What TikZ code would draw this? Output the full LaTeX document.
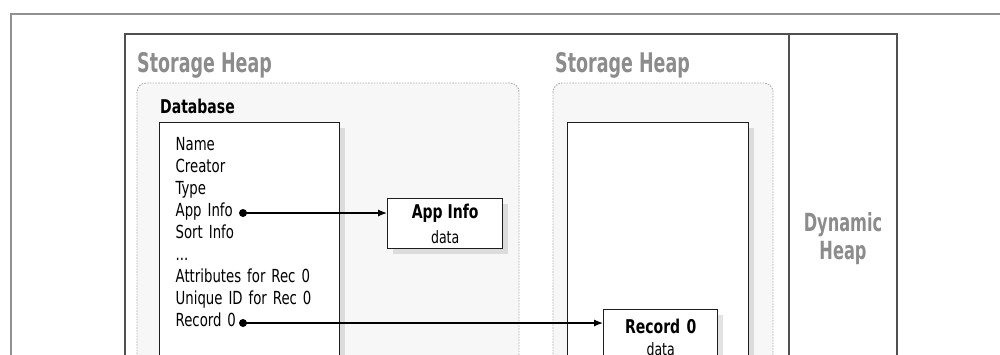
\documentclass[tikz,border=0pt]{standalone}
\usepackage{fontspec}
\setmainfont[FakeStretch=0.82]{DejaVu Sans Condensed}
\newfontfamily\headfont[FakeStretch=0.72]{DejaVu Sans Condensed}
\usetikzlibrary{positioning,arrows.meta,shadows}
\definecolor{HeapGray}{RGB}{140,140,140}
\definecolor{FrameGray}{RGB}{145,145,145}
\definecolor{LineGray}{RGB}{80,80,80}
\definecolor{BoxLine}{RGB}{30,30,30}
\definecolor{ZoneLine}{RGB}{175,175,175}
\definecolor{ZoneFill}{RGB}{247,247,247}
\begin{document}
\begin{tikzpicture}[x=1pt,y=-1pt,
heap/.style={font=\headfont\bfseries\fontsize{27}{27}\selectfont,text=HeapGray,inner sep=0pt},
zone/.style={draw=ZoneLine,fill=ZoneFill,dash pattern=on 1.6pt off 1.2pt,line width=0.9pt,rounded corners=9pt},
memo/.style={draw=BoxLine,fill=white,line width=1.4pt,
drop shadow={shadow xshift=5pt,shadow yshift=-5pt,opacity=0.22}},
fields/.style={font=\fontsize{18}{22}\selectfont,align=left},
dot/.style={circle,fill=black,inner sep=0pt,minimum size=8pt},
ptr/.style={-{Latex[length=9pt,width=7pt]},line width=1.2pt}
]
\useasboundingbox (0,0) rectangle (1000,354);
\clip (0,0) rectangle (1000,354);
% frames
\draw[line width=1.6pt,draw=FrameGray] (11,420) -- (11,14) -- (1020,14);
\draw[line width=1.4pt,draw=LineGray] (125,420) -- (125,34) -- (897,34) -- (897,420) (789,34) -- (789,420);
% heaps
\node[heap,anchor=base west] (sheap1) at (137,72) {Storage Heap};
\node[heap,anchor=base west] (sheap2) at (555,72) {Storage Heap};
\node[heap,font=\headfont\bfseries\fontsize{25}{28}\selectfont,align=center] (dheap) at (843,239) {Dynamic\\Heap};
\draw[zone] (137,83) rectangle (519,420);
\draw[zone] (553,83) rectangle (773,420);
% database
\node[font=\bfseries\fontsize{19}{19}\selectfont,inner sep=0pt,anchor=base west] (dblabel) at (160,113) {Database};
\node[memo,fields,anchor=north west,inner xsep=16pt,inner ysep=15pt,text width=148pt,text depth=280pt] (db) at (159,122)
{Name\\Creator\\Type\\App Info\\Sort Info\\...\\Attributes for Rec 0\\Unique ID for Rec 0\\Record 0};
\node[dot] (appdot) at (243,213) {};
\node[dot] (recdot) at (243,323) {};
\node[memo,anchor=north west,minimum width=115pt,minimum height=50pt,align=center,inner sep=0pt,
font=\fontsize{19}{25}\selectfont] (appinfo) at (387,198) {\textbf{App Info}\\{\fontsize{17}{25}\selectfont data}};
% second heap
\node[memo,anchor=north west,minimum width=181pt,minimum height=300pt] (chunk) at (567,122) {};
\node[memo,anchor=north west,text width=114pt,align=center,inner xsep=0pt,inner ysep=9pt,text depth=40pt,
font=\fontsize{19}{22}\selectfont] (rec) at (603,309) {\textbf{Record 0}\\{\fontsize{17}{22}\selectfont data}};
\draw[ptr] (appdot.center) -- (appdot -| appinfo.west);
\draw[ptr] (recdot.center) -- (recdot -| rec.west);
\end{tikzpicture}
\end{document}
